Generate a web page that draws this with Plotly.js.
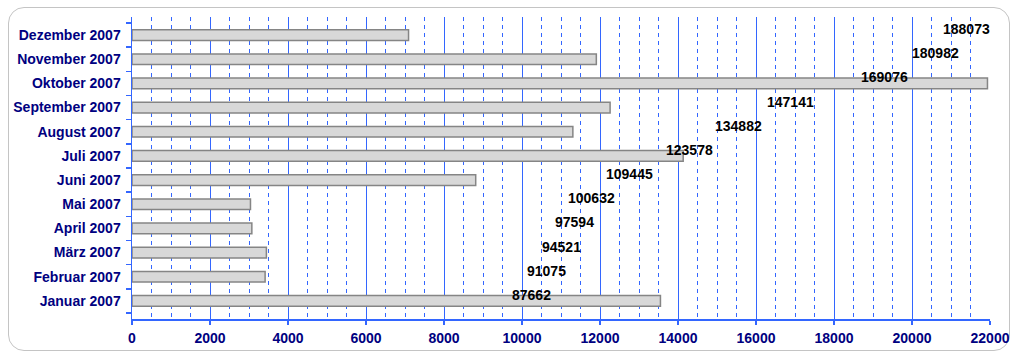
<!DOCTYPE html>
<html>
<head>
<meta charset="utf-8">
<script src="https://cdn.plot.ly/plotly-3.0.1.min.js"></script>
<style>
  html, body { margin:0; padding:0; background:#fff; }
  #frame { position:absolute; left:8px; top:7px; width:1002px; height:344px; border:1px solid #c4c4c4; border-radius:16px; box-sizing:border-box; }
  #chart { position:absolute; left:0; top:0; width:1019px; height:359px; }
</style>
</head>
<body>
<div id="frame"></div>
<div id="chart"></div>
<script>
// Categories (bottom to top)
const months = ["Januar 2007","Februar 2007","März 2007","April 2007","Mai 2007","Juni 2007",
                "Juli 2007","August 2007","September 2007","Oktober 2007","November 2007","Dezember 2007"];
// Monthly values (bar lengths)
const monthly = [13550, 3413, 3446, 3073, 3038, 8813, 14133, 11304, 12259, 21935, 11906, 7091];
// Cumulative totals shown as labels
const cumulative = [87662, 91075, 94521, 97594, 100632, 109445, 123578, 134882, 147141, 169076, 180982, 188073];
// Axis ticks
const xTicks = [0, 2000, 4000, 6000, 8000, 10000, 12000, 14000, 16000, 18000, 20000, 22000];

const navy = "#000080";
const blue = "#3366ff";
const font = "Liberation Sans, Arial, sans-serif";

const bars = {
  type: "bar", orientation: "h",
  x: monthly, y: months, width: 0.44,
  marker: {
    color: "#ffffff",
    line: {color: "#858585", width: 1.5},
    pattern: {shape: ".", size: 2, solidity: 0.5, fgcolor: "#a8a8a8", bgcolor: "#ffffff"}
  },
  hoverinfo: "x+y", showlegend: false
};

const cumTrace = {
  type: "scatter", mode: "markers", xaxis: "x2", yaxis: "y",
  x: cumulative, y: months,
  marker: {opacity: 0, size: 1}, hoverinfo: "skip", showlegend: false
};

const annotations = cumulative.map((v, i) => ({
  x: v, y: months[i], xref: "x2", yref: "y",
  text: String(v), showarrow: false, xanchor: "left", yanchor: "middle",
  xshift: 2, yshift: 6,
  font: {family: font, size: 14, color: "#000000", weight: "bold"}
}));

const layout = {
  width: 1019, height: 359,
  margin: {l: 132, r: 29, t: 17, b: 40},
  paper_bgcolor: "rgba(0,0,0,0)", plot_bgcolor: "rgba(0,0,0,0)",
  bargap: 0,
  xaxis: {
    range: [0, 22000], tickvals: xTicks, ticktext: xTicks.map(String),
    showgrid: true, gridcolor: blue, gridwidth: 1,
    minor: {dtick: 500, tick0: 0, showgrid: true, gridcolor: blue, griddash: "4px,4px", gridwidth: 1, ticks: ""},
    showline: true, linecolor: blue, linewidth: 1.5,
    ticks: "outside", ticklen: 4, tickcolor: blue, tickwidth: 1.5,
    ticklabelstandoff: 2,
    tickfont: {family: font, size: 14, color: navy, weight: "bold"},
    zeroline: false, fixedrange: true
  },
  xaxis2: {
    range: [0, 200000], overlaying: "x", side: "top", visible: false, fixedrange: true
  },
  yaxis: {
    type: "category", categoryorder: "array", categoryarray: months,
    showline: true, linecolor: blue, linewidth: 1.5,
    ticks: "outside", ticklen: 5, tickcolor: blue, tickwidth: 1.5, tickson: "boundaries",
    ticklabelstandoff: 7,
    tickfont: {family: font, size: 14, color: navy, weight: "bold"},
    showgrid: false, zeroline: false, fixedrange: true
  },
  annotations: annotations,
  showlegend: false
};

Plotly.newPlot("chart", [bars, cumTrace], layout, {displayModeBar: false, staticPlot: true});
</script>
</body>
</html>
